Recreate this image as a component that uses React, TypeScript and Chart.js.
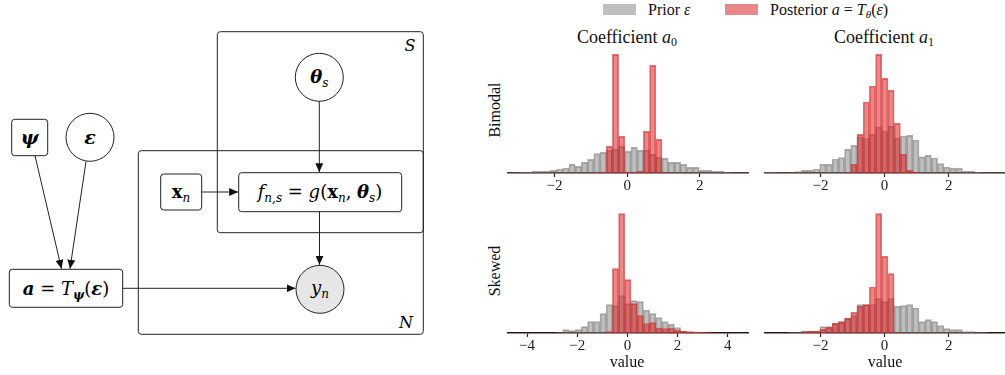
import React, { useEffect, useRef } from "react";
import { Chart, registerables } from "chart.js";

Chart.register(...registerables);

// ---------------- data ----------------
// Histogram bin heights (39 equal-width bins per panel)
const A0_BIMODAL_PRIOR = [0.3,0.5,0.7,0.7,1.7,1.7,1.7,2.7,4,5,8.7,6.7,10.7,13.7,19.5,20.7,22.7,23.7,26.7,21.7,25.7,22.7,22.7,18.7,15.7,14.7,10.7,10.7,8.7,5.7,5.7,2.7,2.7,1.7,1.7,0.7,0.5,0.3,0.3];
const A0_BIMODAL_POST = [0,0,0,0,0,0,0,0,0,0,0,0,0,0,0.3,1,26.7,118.7,36.7,0.5,1,1.7,41.7,107.7,33.7,0.5,0,0,0,0,0,0,0,0,0,0,0,0,0];
const A1_BIMODAL_PRIOR = [0.7,0.7,0.5,0.5,1,1.3,2.7,2.7,4,8.7,8.7,14,15.5,23.7,27.7,36,34.5,38.7,46,42,46.7,35,37,37.7,33,16.2,17.7,15,9.5,5.8,4.8,4.7,1.8,1.7,0.7,0.5,0.5,0.3,0.3];
const A1_BIMODAL_POST = [0,0,0,0,0,0,0,0,0,0,0,0,0,0.5,8.7,38.7,71,87,118.7,94.7,82.7,49.7,18.7,2.7,0.3,0,0,0,0,0,0,0,0,0,0,0,0,0,0];
const A0_SKEWED_PRIOR = [0,0,0,0,0,0,0,0,0.3,3.3,2.3,3.3,6.3,11.3,11.3,19.3,28.3,27.3,37.3,29.3,32.3,31.3,23,19.3,15.5,11.5,8.7,5.5,1.7,1,0.7,0.5,0,0,0,0,0,0,0];
const A0_SKEWED_POST = [0,0,0,0,0,0,0,0,0,0,0,0,0,0,0,0,1.3,64.3,119.3,53.3,29.3,17.3,9.5,10.5,5,4.5,5,3,2,1.3,1.2,1,0.5,0,0,0,0,0,0];
const A1_SKEWED_PRIOR = [0,0,0,0,0.3,0.5,2,2,2,6.3,6.3,9.7,11.7,14.7,17.3,28.3,28.3,28.3,34.3,31.3,34.3,26.7,27.3,28.3,25,11.3,13.3,11.3,7.3,4.3,3.3,3.3,1.3,1.3,0.5,0.3,0,0,0];
const A1_SKEWED_POST = [0,0,0,0,0,0,1.3,2,1.7,3.7,5.7,9.7,10.7,14.7,20.7,26.7,28.3,46,119.3,76.7,59.3,0.5,0,0,0,0,0,0,0,0,0,0,0,0,0,0,0,0,0];

// bin start and width (data units), axis range
const A0_BIMODAL_BINS = [-3.31, 0.1708];
const A1_BIMODAL_BINS = [-3.757, 0.1931];
const A0_SKEWED_BINS = [-4.8, 0.2472];
const A1_SKEWED_BINS = [-3.757, 0.1931];
const A0_BIMODAL_XRANGE = [-3.31, 3.357];
const A1_BIMODAL_XRANGE = [-3.757, 3.751];
const A0_SKEWED_XRANGE = [-4.8, 4.849];
const A1_SKEWED_XRANGE = [-3.757, 3.751];
const Y_MAX = 125;

const TICKS_A0_BIMODAL = [-2, 0, 2];
const TICKS_A1 = [-2, 0, 2];
const TICKS_A0_SKEWED = [-4, -2, 0, 2, 4];

const COLUMN_TITLES = ["a", "a"];
const ROW_LABELS = ["Bimodal", "Skewed"];

// ---------------- styles ----------------
const PRIOR_FILL = "rgba(128,128,128,0.5)";
const PRIOR_EDGE = "rgba(105,105,105,0.55)";
const POST_FILL = "rgba(214,39,40,0.55)";
const POST_EDGE = "rgba(214,39,40,0.64)";
const SERIF = "'Liberation Serif', 'Times New Roman', serif";
const MATH = "'DejaVu Serif', serif";
const AXIS_H = 26;

type PanelProps = {
  left: number;
  top: number;
  width: number;
  bins: number[];
  xrange: number[];
  ticks: number[];
  prior: number[];
  post: number[];
};

function Panel({ left, top, width, bins, xrange, ticks, prior, post }: PanelProps) {
  const ref = useRef<HTMLCanvasElement>(null);
  useEffect(() => {
    const [b0, bw] = bins;
    const centers = prior.map((_, i) => b0 + (i + 0.5) * bw);
    const fmt = (v: number | string) => {
      const n = Number(v);
      return n < 0 ? "\u2212" + Math.abs(n) : String(n);
    };
    const chart = new Chart(ref.current as HTMLCanvasElement, {
      type: "bar",
      data: {
        datasets: [
          {
            label: "Prior",
            data: prior.map((y, i) => ({ x: centers[i], y })),
            backgroundColor: PRIOR_FILL,
            borderColor: PRIOR_EDGE,
            borderWidth: 1,
            grouped: false,
            barPercentage: 1,
            categoryPercentage: 1,
            order: 1,
          } as any,
          {
            label: "Posterior",
            data: post.map((y, i) => ({ x: centers[i], y })),
            backgroundColor: POST_FILL,
            borderColor: POST_EDGE,
            borderWidth: 1,
            grouped: false,
            barPercentage: 1,
            categoryPercentage: 1,
            order: 0,
          } as any,
        ],
      },
      options: {
        animation: false,
        responsive: false,
        maintainAspectRatio: false,
        layout: { padding: 0 },
        plugins: { legend: { display: false }, tooltip: { enabled: false } },
        scales: {
          x: {
            type: "linear",
            min: xrange[0],
            max: xrange[1],
            offset: false,
            afterBuildTicks: (s: any) => {
              s.ticks = ticks.map((v) => ({ value: v }));
            },
            afterFit: (s: any) => {
              s.height = AXIS_H;
            },
            ticks: {
              autoSkip: false,
              maxRotation: 0,
              padding: 0,
              color: "#222",
              font: { family: SERIF, size: 15 },
              callback: (v: any) => fmt(v),
            },
            grid: {
              offset: false,
              drawOnChartArea: false,
              drawTicks: true,
              tickLength: 4,
              tickColor: "#222",
              tickWidth: 1.2,
            },
            border: { display: true, color: "#2e1616", width: 1.5 },
          },
          y: { display: false, min: 0, max: Y_MAX },
        },
      } as any,
    });
    return () => chart.destroy();
  }, []);
  return (
    <canvas
      ref={ref}
      width={width}
      height={Y_MAX + AXIS_H}
      style={{ position: "absolute", left, top, width, height: Y_MAX + AXIS_H }}
    />
  );
}

function Diagram() {
  const stroke = "#222";
  const sw = 1;
  return (
    <svg
      width={440}
      height={375}
      style={{ position: "absolute", left: 0, top: 0 }}
      fontFamily={MATH}
    >
      <defs>
        <marker id="ah" markerUnits="userSpaceOnUse" markerWidth="10" markerHeight="8" refX="9" refY="4" orient="auto">
          <path d="M0,0 L9,4 L0,8 Z" fill="#111" />
        </marker>
      </defs>
      {/* plates */}
      <rect x={217.3} y={31.7} width={206} height={201} rx={3} fill="none" stroke={stroke} strokeWidth={sw} />
      <rect x={138.3} y={150.7} width={285} height={183.6} rx={3} fill="none" stroke={stroke} strokeWidth={sw} />
      <text x={410} y={51} fontSize={16} fontStyle="italic" textAnchor="middle">S</text>
      <text x={406} y={328} fontSize={16} fontStyle="italic" textAnchor="middle">N</text>

      {/* theta_s */}
      <circle cx={319.3} cy={77.3} r={24} fill="#fff" stroke={stroke} strokeWidth={sw} />
      <text x={319.3} y={83} fontSize={18} textAnchor="middle">
        <tspan fontWeight="bold" fontStyle="italic">θ</tspan>
        <tspan fontStyle="italic" fontSize={12} dy={4}>s</tspan>
      </text>

      {/* f box */}
      <rect x={238.7} y={172.7} width={163} height={39} rx={3} fill="#fff" stroke={stroke} strokeWidth={sw} />
      <text x={320} y={198} fontSize={18} textAnchor="middle">
        <tspan fontStyle="italic">f</tspan>
        <tspan fontStyle="italic" fontSize={12} dy={4}>n,s</tspan>
        <tspan dy={-4}> = </tspan>
        <tspan fontStyle="italic">g</tspan>
        <tspan>(</tspan>
        <tspan fontWeight="bold">x</tspan>
        <tspan fontStyle="italic" fontSize={12} dy={4}>n</tspan>
        <tspan dy={-4}>, </tspan>
        <tspan fontWeight="bold" fontStyle="italic">θ</tspan>
        <tspan fontStyle="italic" fontSize={12} dy={4}>s</tspan>
        <tspan dy={-4}>)</tspan>
      </text>

      {/* x_n box */}
      <rect x={160.7} y={174} width={41} height={36} rx={3} fill="#fff" stroke={stroke} strokeWidth={sw} />
      <text x={181} y={197.5} fontSize={18} textAnchor="middle">
        <tspan fontWeight="bold">x</tspan>
        <tspan fontStyle="italic" fontSize={12} dy={4}>n</tspan>
      </text>

      {/* y_n */}
      <circle cx={320} cy={289.3} r={24} fill="#e6e6e6" stroke={stroke} strokeWidth={sw} />
      <text x={320} y={294} fontSize={18} textAnchor="middle">
        <tspan fontStyle="italic">y</tspan>
        <tspan fontStyle="italic" fontSize={12} dy={4}>n</tspan>
      </text>

      {/* psi */}
      <rect x={11.7} y={119.3} width={36} height={36.4} rx={3} fill="#fff" stroke={stroke} strokeWidth={sw} />
      <text x={29.7} y={144} fontSize={19} textAnchor="middle" fontWeight="bold" fontStyle="italic">ψ</text>

      {/* epsilon */}
      <circle cx={90} cy={137.3} r={24} fill="#fff" stroke={stroke} strokeWidth={sw} />
      <text x={90} y={143.5} fontSize={19} textAnchor="middle" fontWeight="bold" fontStyle="italic">ε</text>

      {/* a box */}
      <rect x={9.3} y={269.3} width={113.4} height={38} rx={3} fill="#fff" stroke={stroke} strokeWidth={sw} />
      <text x={66} y={294.5} fontSize={18} textAnchor="middle">
        <tspan fontWeight="bold" fontStyle="italic">a</tspan>
        <tspan> = </tspan>
        <tspan fontStyle="italic">T</tspan>
        <tspan fontWeight="bold" fontStyle="italic" fontSize={12} dy={4}>ψ</tspan>
        <tspan dy={-4}>(</tspan>
        <tspan fontWeight="bold" fontStyle="italic">ε</tspan>
        <tspan>)</tspan>
      </text>

      {/* arrows */}
      <line x1={319.3} y1={101.3} x2={319.3} y2={172.2} stroke={stroke} strokeWidth={sw} markerEnd="url(#ah)" />
      <line x1={201.7} y1={192} x2={238.2} y2={192} stroke={stroke} strokeWidth={sw} markerEnd="url(#ah)" />
      <line x1={319.5} y1={211.7} x2={319.5} y2={264.8} stroke={stroke} strokeWidth={sw} markerEnd="url(#ah)" />
      <line x1={35} y1={155.7} x2={61.5} y2={268.8} stroke={stroke} strokeWidth={sw} markerEnd="url(#ah)" />
      <line x1={86} y1={161.5} x2={70} y2={268.8} stroke={stroke} strokeWidth={sw} markerEnd="url(#ah)" />
      <line x1={122.7} y1={288.3} x2={295.5} y2={288.3} stroke={stroke} strokeWidth={sw} markerEnd="url(#ah)" />
    </svg>
  );
}

const textBase: React.CSSProperties = {
  position: "absolute",
  fontFamily: SERIF,
  color: "#111",
  whiteSpace: "nowrap",
  lineHeight: 1,
};

export default function App() {
  return (
    <div
      style={{
        position: "absolute",
        left: 0,
        top: 0,
        width: 1005,
        height: 375,
        overflow: "hidden",
        background: "#fff",
      }}
    >
      <Diagram />

      {/* legend */}
      <div style={{ position: "absolute", left: 603, top: 3.5, width: 33, height: 11.5, background: PRIOR_FILL }} />
      <div style={{ ...textBase, left: 648, top: 2, fontSize: 16 }}>
        Prior <i>ε</i>
      </div>
      <div style={{ position: "absolute", left: 725, top: 3.5, width: 33, height: 11.5, background: POST_FILL }} />
      <div style={{ ...textBase, left: 770, top: 2, fontSize: 16 }}>
        Posterior <i>a</i> = <i>T</i>
        <sub style={{ fontSize: 11, fontStyle: "italic", verticalAlign: "-3px" }}>θ</sub>(<i>ε</i>)
      </div>

      {/* column titles */}
      <div style={{ ...textBase, left: 627, top: 38, fontSize: 18, transform: "translate(-50%,-50%)" }}>
        Coefficient <i>{COLUMN_TITLES[0]}</i>
        <sub style={{ fontSize: 12, verticalAlign: "-3px" }}>0</sub>
      </div>
      <div style={{ ...textBase, left: 884, top: 38, fontSize: 18, transform: "translate(-50%,-50%)" }}>
        Coefficient <i>{COLUMN_TITLES[1]}</i>
        <sub style={{ fontSize: 12, verticalAlign: "-3px" }}>1</sub>
      </div>

      {/* row labels */}
      <div style={{ ...textBase, left: 495, top: 110, fontSize: 16, transform: "translate(-50%,-50%) rotate(-90deg)" }}>
        {ROW_LABELS[0]}
      </div>
      <div style={{ ...textBase, left: 495, top: 271, fontSize: 16, transform: "translate(-50%,-50%) rotate(-90deg)" }}>
        {ROW_LABELS[1]}
      </div>

      {/* panels */}
      <Panel left={507} top={48} width={242} bins={A0_BIMODAL_BINS} xrange={A0_BIMODAL_XRANGE} ticks={TICKS_A0_BIMODAL} prior={A0_BIMODAL_PRIOR} post={A0_BIMODAL_POST} />
      <Panel left={764} top={48} width={241} bins={A1_BIMODAL_BINS} xrange={A1_BIMODAL_XRANGE} ticks={TICKS_A1} prior={A1_BIMODAL_PRIOR} post={A1_BIMODAL_POST} />
      <Panel left={507} top={208} width={242} bins={A0_SKEWED_BINS} xrange={A0_SKEWED_XRANGE} ticks={TICKS_A0_SKEWED} prior={A0_SKEWED_PRIOR} post={A0_SKEWED_POST} />
      <Panel left={764} top={208} width={241} bins={A1_SKEWED_BINS} xrange={A1_SKEWED_XRANGE} ticks={TICKS_A1} prior={A1_SKEWED_PRIOR} post={A1_SKEWED_POST} />

      {/* x axis titles */}
      <div style={{ ...textBase, left: 627, top: 362, fontSize: 16, transform: "translate(-50%,-50%)" }}>value</div>
      <div style={{ ...textBase, left: 885, top: 362, fontSize: 16, transform: "translate(-50%,-50%)" }}>value</div>
    </div>
  );
}
